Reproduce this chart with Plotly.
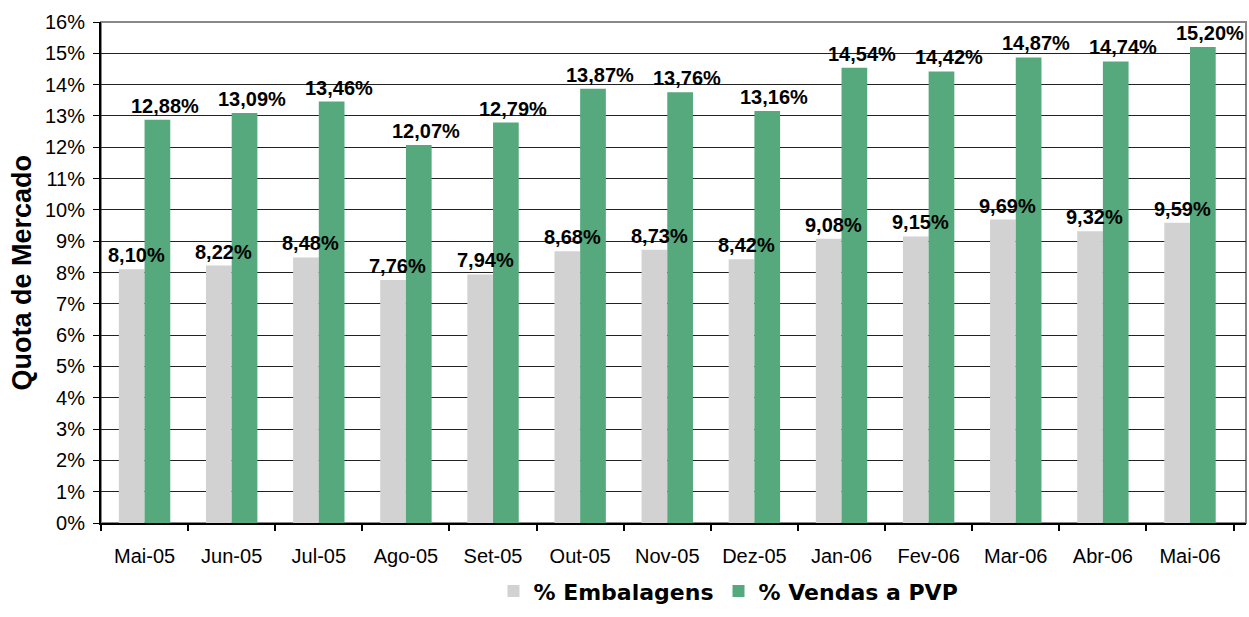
import plotly.graph_objects as go

meses = ["Mai-05", "Jun-05", "Jul-05", "Ago-05", "Set-05", "Out-05", "Nov-05",
         "Dez-05", "Jan-06", "Fev-06", "Mar-06", "Abr-06", "Mai-06"]
embalagens = [8.10, 8.22, 8.48, 7.76, 7.94, 8.68, 8.73, 8.42, 9.08, 9.15, 9.69, 9.32, 9.59]
vendas_pvp = [12.88, 13.09, 13.46, 12.07, 12.79, 13.87, 13.76, 13.16, 14.54, 14.42, 14.87, 14.74, 15.20]
y_ticks = list(range(0, 17))


def fmt(v):
    return f"{v:.2f}".replace(".", ",") + "%"


FONT = "Liberation Sans, Arial, sans-serif"
LABEL_FONT = dict(family=FONT, size=20, color="black", weight="bold")

fig = go.Figure()
fig.add_trace(go.Bar(
    x=meses, y=embalagens, name="% Embalagens",
    marker=dict(color="#d2d2d2", line=dict(width=0)),
))
fig.add_trace(go.Bar(
    x=meses, y=vendas_pvp, name="% Vendas a PVP",
    marker=dict(color="#55a97c", line=dict(width=0)),
))

annotations = []
for m, v in zip(meses, embalagens):
    annotations.append(dict(x=m, y=v, text=fmt(v), showarrow=False, xanchor="center",
                            yanchor="bottom", xshift=-8, yshift=1, font=LABEL_FONT))
for m, v in zip(meses, vendas_pvp):
    annotations.append(dict(x=m, y=v, text=fmt(v), showarrow=False, xanchor="center",
                            yanchor="bottom", xshift=20, yshift=1, font=LABEL_FONT))
annotations.append(dict(text="Quota de Mercado", xref="paper", yref="paper", x=-0.069, y=0.5,
                        xanchor="center", yanchor="middle", textangle=-90, showarrow=False,
                        font=dict(family=FONT, size=27, color="black", weight="bold")))

fig.update_layout(
    width=1249, height=617, autosize=False,
    margin=dict(l=101, r=3, t=22, b=94),
    paper_bgcolor="white", plot_bgcolor="white",
    barmode="group", bargap=0.41, bargroupgap=0,
    font=dict(family=FONT, color="black"),
    showlegend=True,
    legend=dict(orientation="h", x=0.548, xanchor="center", y=-0.178, yanchor="bottom",
                font=dict(family="DejaVu Sans, Verdana, sans-serif", size=22, color="black", weight="bold"),
                itemwidth=30),
    annotations=annotations,
    shapes=[dict(type="rect", xref="paper", yref="paper", x0=0, x1=1, y0=0, y1=1,
                 line=dict(color="#888888", width=2), layer="below")],
)
fig.update_xaxes(
    automargin=False,
    showline=True, linecolor="black", linewidth=2,
    ticks="outside", tickson="boundaries", ticklen=6, tickcolor="black", tickwidth=2,
    ticklabelstandoff=14,
    tickfont=dict(family=FONT, size=20, color="black"),
    showgrid=False,
)
fig.update_yaxes(
    automargin=False,
    range=[0, 16], tickvals=y_ticks, ticktext=[f"{t}%" for t in y_ticks],
    showline=True, linecolor="black", linewidth=2,
    ticks="outside", ticklen=6, tickcolor="black", tickwidth=1,
    ticklabelstandoff=4,
    tickfont=dict(family=FONT, size=20, color="black"),
    showgrid=True, gridcolor="#222222", gridwidth=1,
    zeroline=False,
)
fig.write_html(
    "out.html",
    config={"displayModeBar": False, "responsive": False},
    post_script="document.body.style.margin='0';"
                "Plotly.relayout('{plot_id}', {width:1249, height:617});",
)
